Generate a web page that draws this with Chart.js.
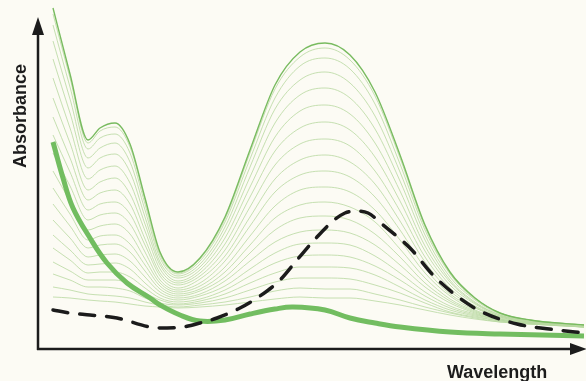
<!DOCTYPE html>
<html>
<head>
<meta charset="utf-8">
<script src="https://cdn.jsdelivr.net/npm/chart.js@4.4.1/dist/chart.umd.min.js"></script>
<style>
  body { margin: 0; background: #fcfbf4; }
  #caixa { width: 586px; height: 381px; position: relative; }
</style>
</head>
<body>
<div id="caixa"><canvas id="grafico"></canvas></div>
<script>
// wavelength in arbitrary units, absorbance in arbitrary units
const wavelengths = [16, 33, 51, 63, 78, 93, 108, 123, 141, 163, 188, 213, 238, 263, 288, 313, 338, 363, 388, 413, 438, 463, 493, 547];

// family of spectra, first one is the initial spectrum
const spectra = [
    [340, 274, 208, 220, 225, 204, 150, 96, 76, 90, 131, 198, 263, 296, 305, 293, 256, 193, 123, 76, 50, 35, 28, 23],
    [334, 270, 205, 217, 221, 201, 148, 95, 75, 89, 129, 195, 259, 291, 300, 288, 252, 190, 121, 75, 50, 35, 28, 23],
    [323, 261, 199, 210, 214, 195, 144, 93, 74, 87, 126, 189, 250, 282, 290, 279, 244, 184, 118, 74, 49, 35, 28, 23],
    [307, 249, 190, 200, 205, 186, 138, 90, 72, 84, 121, 181, 239, 268, 276, 265, 232, 176, 113, 71, 48, 34, 28, 23],
    [289, 235, 180, 190, 194, 176, 131, 86, 70, 81, 116, 171, 225, 253, 260, 250, 219, 167, 108, 68, 46, 33, 27, 23],
    [270, 220, 169, 178, 182, 165, 124, 83, 67, 78, 110, 161, 211, 237, 243, 234, 205, 157, 102, 66, 45, 33, 27, 23],
    [250, 205, 158, 166, 170, 154, 117, 79, 65, 75, 104, 151, 197, 220, 226, 218, 191, 147, 97, 63, 44, 32, 27, 22],
    [231, 190, 148, 155, 158, 144, 109, 75, 63, 72, 98, 141, 183, 204, 209, 202, 177, 137, 91, 60, 42, 32, 27, 22],
    [213, 176, 138, 144, 146, 134, 103, 72, 60, 69, 92, 131, 169, 188, 193, 186, 164, 127, 86, 57, 41, 31, 26, 22],
    [195, 162, 128, 133, 135, 124, 96, 68, 58, 65, 87, 122, 156, 173, 177, 171, 151, 118, 80, 54, 40, 31, 26, 22],
    [177, 147, 118, 122, 124, 114, 89, 65, 56, 62, 81, 112, 142, 158, 161, 156, 138, 108, 75, 52, 38, 30, 26, 22],
    [160, 134, 108, 112, 113, 104, 83, 62, 54, 59, 76, 103, 130, 143, 146, 141, 126, 99, 70, 49, 37, 29, 26, 22],
    [144, 122, 100, 103, 104, 96, 77, 59, 52, 57, 71, 95, 118, 130, 132, 128, 114, 91, 65, 47, 36, 29, 25, 22],
    [128, 110, 91, 93, 94, 87, 71, 56, 50, 54, 67, 87, 106, 116, 118, 115, 103, 83, 61, 45, 35, 28, 25, 22],
    [113, 98, 83, 84, 85, 79, 65, 53, 48, 52, 62, 79, 95, 104, 105, 103, 92, 75, 56, 42, 34, 28, 25, 21],
    [100, 88, 75, 76, 76, 71, 60, 50, 46, 49, 58, 72, 85, 92, 93, 91, 82, 68, 52, 40, 33, 28, 25, 21],
    [86, 77, 68, 68, 68, 64, 55, 48, 44, 47, 54, 65, 75, 81, 81, 80, 73, 61, 48, 38, 32, 27, 25, 21],
    [74, 68, 61, 61, 60, 57, 50, 45, 43, 45, 50, 58, 66, 70, 70, 69, 63, 55, 45, 36, 31, 27, 24, 21],
    [61, 58, 54, 53, 52, 50, 46, 43, 41, 43, 46, 51, 57, 60, 59, 59, 54, 48, 41, 35, 30, 26, 24, 21],
    [51, 50, 48, 47, 46, 44, 42, 41, 40, 41, 43, 46, 49, 51, 50, 50, 47, 43, 38, 33, 29, 26, 24, 21]
];

// final spectrum (thick green)
const finalWavelengths = [16, 26, 36, 53, 70, 90, 113, 123, 143, 163, 188, 213, 238, 256, 288, 313, 338, 363, 413, 463, 547];
const finalSpectrum = [206, 170, 140, 110, 85, 65, 50, 43, 33, 27, 28, 34, 39, 41, 38, 30, 25, 21, 16, 14, 12];

// reference spectrum (black dashed)
const refWavelengths = [16, 33, 53, 80, 113, 130, 146, 163, 180, 203, 223, 243, 260, 280, 296, 308, 318, 331, 346, 373, 396, 416, 443, 480, 520, 547];
const refSpectrum = [38, 35, 33, 30, 21, 20, 21, 25, 30, 40, 52, 68, 88, 111, 127, 135, 137, 135, 123, 100, 73, 55, 37, 24, 18, 15];

const xTitle = 'Wavelength';
const yTitle = 'Absorbance';

document.addEventListener("DOMContentLoaded", () => {
    desenharGrafico();
});

function pontos(xs, ys) {
    return xs.map((x, i) => ({ x: x, y: ys[i] }));
}

const eixos = {
    id: 'eixos',
    afterDatasetsDraw(chart) {
        const ctx = chart.ctx;
        const x0 = chart.scales.x.getPixelForValue(0) + 1;
        const y0 = chart.scales.y.getPixelForValue(0) + 1;
        ctx.save();
        ctx.strokeStyle = '#1c1c1c';
        ctx.fillStyle = '#1c1c1c';
        ctx.lineWidth = 2.5;

        // y axis + arrow
        ctx.beginPath();
        ctx.moveTo(x0, y0 + 1);
        ctx.lineTo(x0, 30);
        ctx.stroke();
        ctx.beginPath();
        ctx.moveTo(x0, 17);
        ctx.lineTo(x0 - 6, 35);
        ctx.lineTo(x0 + 6, 35);
        ctx.closePath();
        ctx.fill();

        // x axis + arrow
        ctx.beginPath();
        ctx.moveTo(x0 - 1, y0);
        ctx.lineTo(575, y0);
        ctx.stroke();
        ctx.beginPath();
        ctx.moveTo(587, y0);
        ctx.lineTo(570, y0 - 6);
        ctx.lineTo(570, y0 + 6);
        ctx.closePath();
        ctx.fill();

        ctx.font = 'bold 18px "Liberation Sans", Arial, sans-serif';
        ctx.textBaseline = 'alphabetic';
        ctx.textAlign = 'left';
        ctx.fillText(xTitle, 447, 378);

        ctx.translate(26, 116);
        ctx.rotate(-Math.PI / 2);
        ctx.textAlign = 'center';
        ctx.fillText(yTitle, 0, 0);
        ctx.restore();
    }
};

function desenharGrafico() {
    const datasets = [];

    datasets.push({
        data: pontos(refWavelengths, refSpectrum),
        borderColor: '#1b1b1b',
        borderWidth: 3.5,
        borderDash: [15, 12],
        borderCapStyle: 'round',
        cubicInterpolationMode: 'monotone',
        order: 0
    });

    datasets.push({
        data: pontos(finalWavelengths, finalSpectrum),
        borderColor: '#72bd60',
        borderWidth: 5,
        tension: 0.4,
        order: 1
    });

    spectra.forEach((s, i) => {
        datasets.push({
            data: pontos(wavelengths, s),
            borderColor: i === 0 ? '#78bb5f' : '#b8d8a0',
            borderWidth: i === 0 ? 1.4 : 0.8,
            cubicInterpolationMode: 'monotone',
            order: 2
        });
    });

    datasets.forEach(d => {
        d.pointRadius = 0;
        d.fill = false;
        d.clip = false;
    });

    new Chart(document.getElementById('grafico'), {
        type: 'line',
        data: { datasets: datasets },
        options: {
            responsive: true,
            maintainAspectRatio: false,
            animation: false,
            events: [],
            layout: { padding: { left: 37, right: 2, top: 0, bottom: 33 } },
            plugins: { legend: { display: false }, tooltip: { enabled: false } },
            scales: {
                x: { type: 'linear', min: 0, max: 547, display: false },
                y: { min: 0, max: 348, display: false }
            }
        },
        plugins: [eixos]
    });
}
</script>
</body>
</html>
